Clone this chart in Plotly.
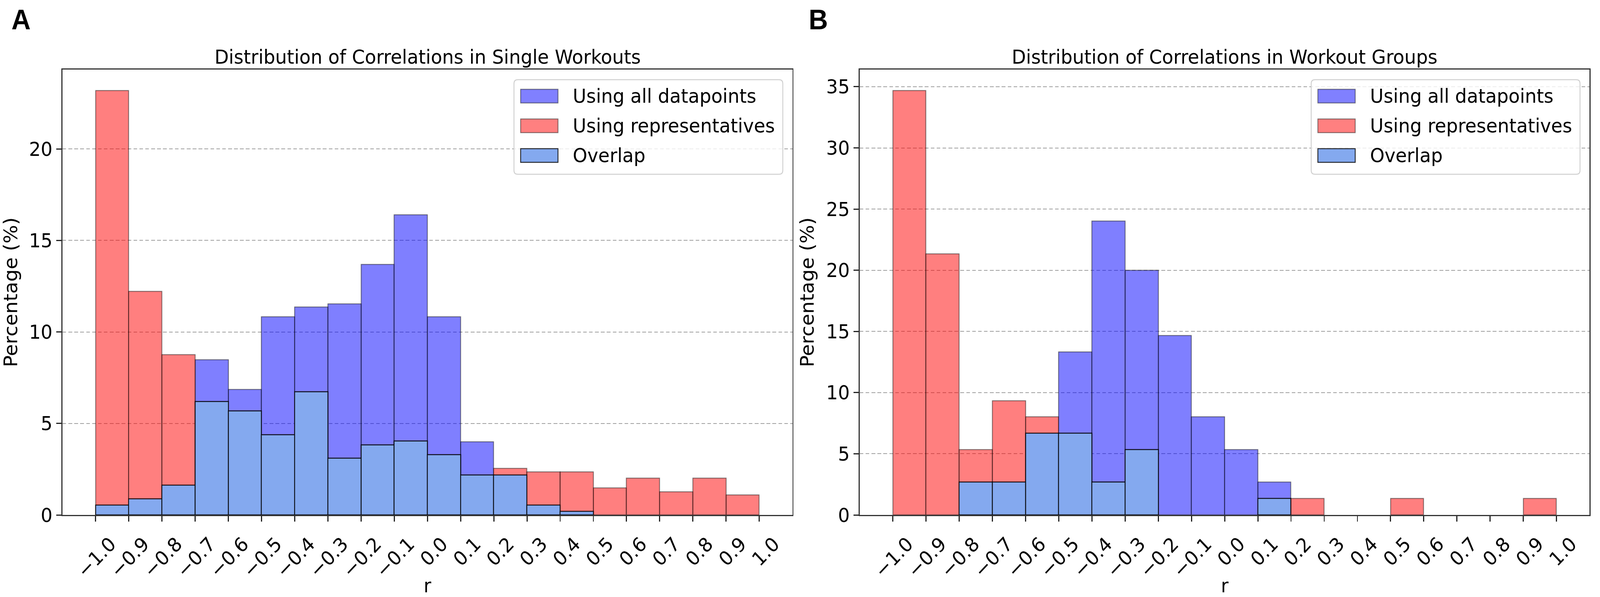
import plotly.graph_objects as go

# ---------------- data ----------------
bin_left = [-1.0, -0.9, -0.8, -0.7, -0.6, -0.5, -0.4, -0.3, -0.2, -0.1,
            0.0, 0.1, 0.2, 0.3, 0.4, 0.5, 0.6, 0.7, 0.8, 0.9]
bin_width = 0.1

# Panel A: single workouts (percentage per bin)
a_all = [0.53, 0.88, 1.63, 8.47, 6.85, 10.83, 11.36, 11.53, 13.69, 16.40,
         10.83, 3.99, 2.18, 0.53, 0.19, 0, 0, 0, 0, 0]
a_rep = [23.18, 12.22, 8.75, 6.20, 5.67, 4.37, 6.73, 3.10, 3.83, 4.04,
         3.29, 2.18, 2.55, 2.35, 2.35, 1.47, 2.00, 1.27, 2.00, 1.08]

# Panel B: workout groups
b_all = [0, 0, 2.67, 2.67, 6.67, 13.33, 24.0, 20.0, 14.67, 8.0,
         5.33, 2.67, 0, 0, 0, 0, 0, 0, 0, 0]
b_rep = [34.67, 21.33, 5.33, 9.33, 8.0, 6.67, 2.67, 5.33, 0, 0,
         0, 1.33, 1.33, 0, 0, 1.33, 0, 0, 0, 1.33]

x_tickvals = [-1.0, -0.9, -0.8, -0.7, -0.6, -0.5, -0.4, -0.3, -0.2, -0.1, 0.0,
              0.1, 0.2, 0.3, 0.4, 0.5, 0.6, 0.7, 0.8, 0.9, 1.0]
x_ticktext = ["\u22121.0", "\u22120.9", "\u22120.8", "\u22120.7", "\u22120.6", "\u22120.5",
              "\u22120.4", "\u22120.3", "\u22120.2", "\u22120.1", "0.0", "0.1", "0.2", "0.3",
              "0.4", "0.5", "0.6", "0.7", "0.8", "0.9", "1.0"]
a_yticks = [0, 5, 10, 15, 20]
b_yticks = [0, 5, 10, 15, 20, 25, 30, 35]

titles = ["Distribution of Correlations in Single Workouts",
          "Distribution of Correlations in Workout Groups"]
panel_letters = ["A", "B"]
legend_labels = ["Using all datapoints", "Using representatives", "Overlap"]

# ---------------- styling ----------------
W, H = 4327, 1528
FONT = "DejaVu Sans"
FS = 50
FS_XT = 50
C_ALL = "rgba(0,0,255,0.5)"
C_REP = "rgba(255,0,0,0.5)"
C_OVL = "#84a9ef"
E_ALL = "rgba(0,0,0,0.45)"
E_OVL = "rgba(0,0,0,0.8)"
C_ALL_SOLID = "#8080ff"
C_REP_SOLID = "#ff8080"


def px_x(x):
    return x / W


def px_y(y):
    return 1 - y / H


def nz(vals):
    return [v if v > 0 else None for v in vals]


def rounded_rect_path(x0, y0, x1, y1, r):
    # pixel coords (top-left origin) -> paper path with rounded corners
    X = px_x
    Y = px_y
    return (f"M {X(x0 + r)},{Y(y0)} L {X(x1 - r)},{Y(y0)} "
            f"Q {X(x1)},{Y(y0)} {X(x1)},{Y(y0 + r)} "
            f"L {X(x1)},{Y(y1 - r)} Q {X(x1)},{Y(y1)} {X(x1 - r)},{Y(y1)} "
            f"L {X(x0 + r)},{Y(y1)} Q {X(x0)},{Y(y1)} {X(x0)},{Y(y1 - r)} "
            f"L {X(x0)},{Y(y0 + r)} Q {X(x0)},{Y(y0)} {X(x0 + r)},{Y(y0)} Z")


panels = [
    dict(all=a_all, rep=a_rep, yticks=a_yticks, ymax=max(a_rep + a_all) * 1.05,
         x0=169, x1=2143, xa="x", ya="y"),
    dict(all=b_all, rep=b_rep, yticks=b_yticks, ymax=max(b_rep + b_all) * 1.05,
         x0=2325, x1=4299, xa="x2", ya="y2"),
]
Y0, Y1 = 178, 1318

fig = go.Figure()
shapes = []
annotations = []

for i, p in enumerate(panels):
    overlap = [min(a, r) for a, r in zip(p["all"], p["rep"])]
    common = dict(x=bin_left, width=bin_width, offset=0, xaxis=p["xa"], yaxis=p["ya"],
                  showlegend=False, hoverinfo="x+y")
    fig.add_trace(go.Bar(y=nz(p["all"]), name=legend_labels[0],
                         marker=dict(color=C_ALL, line=dict(color=E_ALL, width=2.5)), **common))
    fig.add_trace(go.Bar(y=nz(p["rep"]), name=legend_labels[1],
                         marker=dict(color=C_REP, line=dict(color=E_ALL, width=2.5)), **common))
    fig.add_trace(go.Bar(y=nz(overlap), name=legend_labels[2],
                         marker=dict(color=C_OVL, line=dict(color=E_OVL, width=2.5)), **common))

    sfx = "" if i == 0 else "2"
    fig.update_layout(**{
        "xaxis" + sfx: dict(
            domain=[px_x(p["x0"]), px_x(p["x1"])], range=[-1.1, 1.1],
            anchor="y" + sfx, tickmode="array", tickvals=x_tickvals, ticktext=x_ticktext,
            tickangle=-45, ticks="outside", ticklen=14, tickwidth=3, tickcolor="#222",
            ticklabelshift=40, ticklabelstandoff=8,
            showline=True, linecolor="#333", linewidth=3, mirror=True,
            showgrid=False, zeroline=False, automargin=False,
            tickfont=dict(family=FONT, size=FS_XT, color="black"),
            title=dict(text="r", font=dict(family=FONT, size=FS, color="black"), standoff=16),
        ),
        "yaxis" + sfx: dict(
            domain=[px_y(Y1), px_y(Y0)], range=[0, p["ymax"]],
            anchor="x" + sfx, tickmode="array", tickvals=p["yticks"],
            ticks="outside", ticklen=14, tickwidth=3, tickcolor="#222",
            showline=True, linecolor="#333", linewidth=3, mirror=True,
            showgrid=True, gridcolor="rgba(128,128,128,0.75)", gridwidth=2, griddash="10px,6px",
            zeroline=False, automargin=False,
            tickfont=dict(family=FONT, size=FS, color="black"),
            title=dict(text="Percentage (%)", font=dict(family=FONT, size=FS, color="black"),
                       standoff=18),
        ),
    })

    # title
    annotations.append(dict(text=titles[i], x=px_x((p["x0"] + p["x1"]) / 2), y=px_y(146),
                            xref="paper", yref="paper", xanchor="center", yanchor="middle",
                            showarrow=False, font=dict(family=FONT, size=FS, color="black")))
    # panel letter
    annotations.append(dict(text="<b>" + panel_letters[i] + "</b>", x=px_x(p["x0"] - 140),
                            y=px_y(50), xref="paper", yref="paper", xanchor="left",
                            yanchor="middle", showarrow=False,
                            font=dict(family="Liberation Sans", size=72, color="black")))

    # manual legend (box, patches, labels)
    off = p["x1"] - 2143
    bx0, bx1, by0, by1 = 1390 + off, 2117 + off, 204, 446
    shapes.append(dict(type="path", xref="paper", yref="paper",
                       path=rounded_rect_path(bx0, by0, bx1, by1, 10),
                       fillcolor="rgba(255,255,255,0.8)", line=dict(color="#d0d0d0", width=2.5),
                       layer="above"))
    fills = [C_ALL_SOLID, C_REP_SOLID, C_OVL]
    edges = ["rgba(0,0,0,0.45)", "rgba(0,0,0,0.45)", "rgba(0,0,0,0.8)"]
    for k, yc in enumerate([246, 322, 398]):
        shapes.append(dict(type="rect", xref="paper", yref="paper",
                           x0=px_x(1408 + off), x1=px_x(1509 + off),
                           y0=px_y(yc + 17.5), y1=px_y(yc - 17.5),
                           fillcolor=fills[k], line=dict(color=edges[k], width=2.5),
                           layer="above"))
        annotations.append(dict(text=legend_labels[k], x=px_x(1547 + off), y=px_y(yc),
                                xref="paper", yref="paper", xanchor="left", yanchor="middle",
                                showarrow=False,
                                font=dict(family=FONT, size=FS, color="black")))

fig.update_layout(
    width=W, height=H, margin=dict(l=0, r=0, t=0, b=0),
    paper_bgcolor="white", plot_bgcolor="white",
    barmode="overlay", bargap=0,
    shapes=shapes, annotations=annotations,
    font=dict(family=FONT, size=FS, color="black"),
)

# fit the fixed-size figure exactly into whatever viewport the browser provides
fit_js = """
(function(){
  var gd = document.getElementById('{plot_id}');
  document.documentElement.style.margin = '0';
  document.documentElement.style.overflow = 'hidden';
  document.body.style.margin = '0';
  document.body.style.overflow = 'hidden';
  function fit(){
    var sx = window.innerWidth / %d, sy = window.innerHeight / %d;
    gd.style.transformOrigin = '0 0';
    gd.style.transform = 'scale(' + sx + ',' + sy + ')';
  }
  fit();
  window.addEventListener('resize', fit);
})();
""" % (W, H)

fig.write_html("out.html", post_script=fit_js, config={"displayModeBar": False})
